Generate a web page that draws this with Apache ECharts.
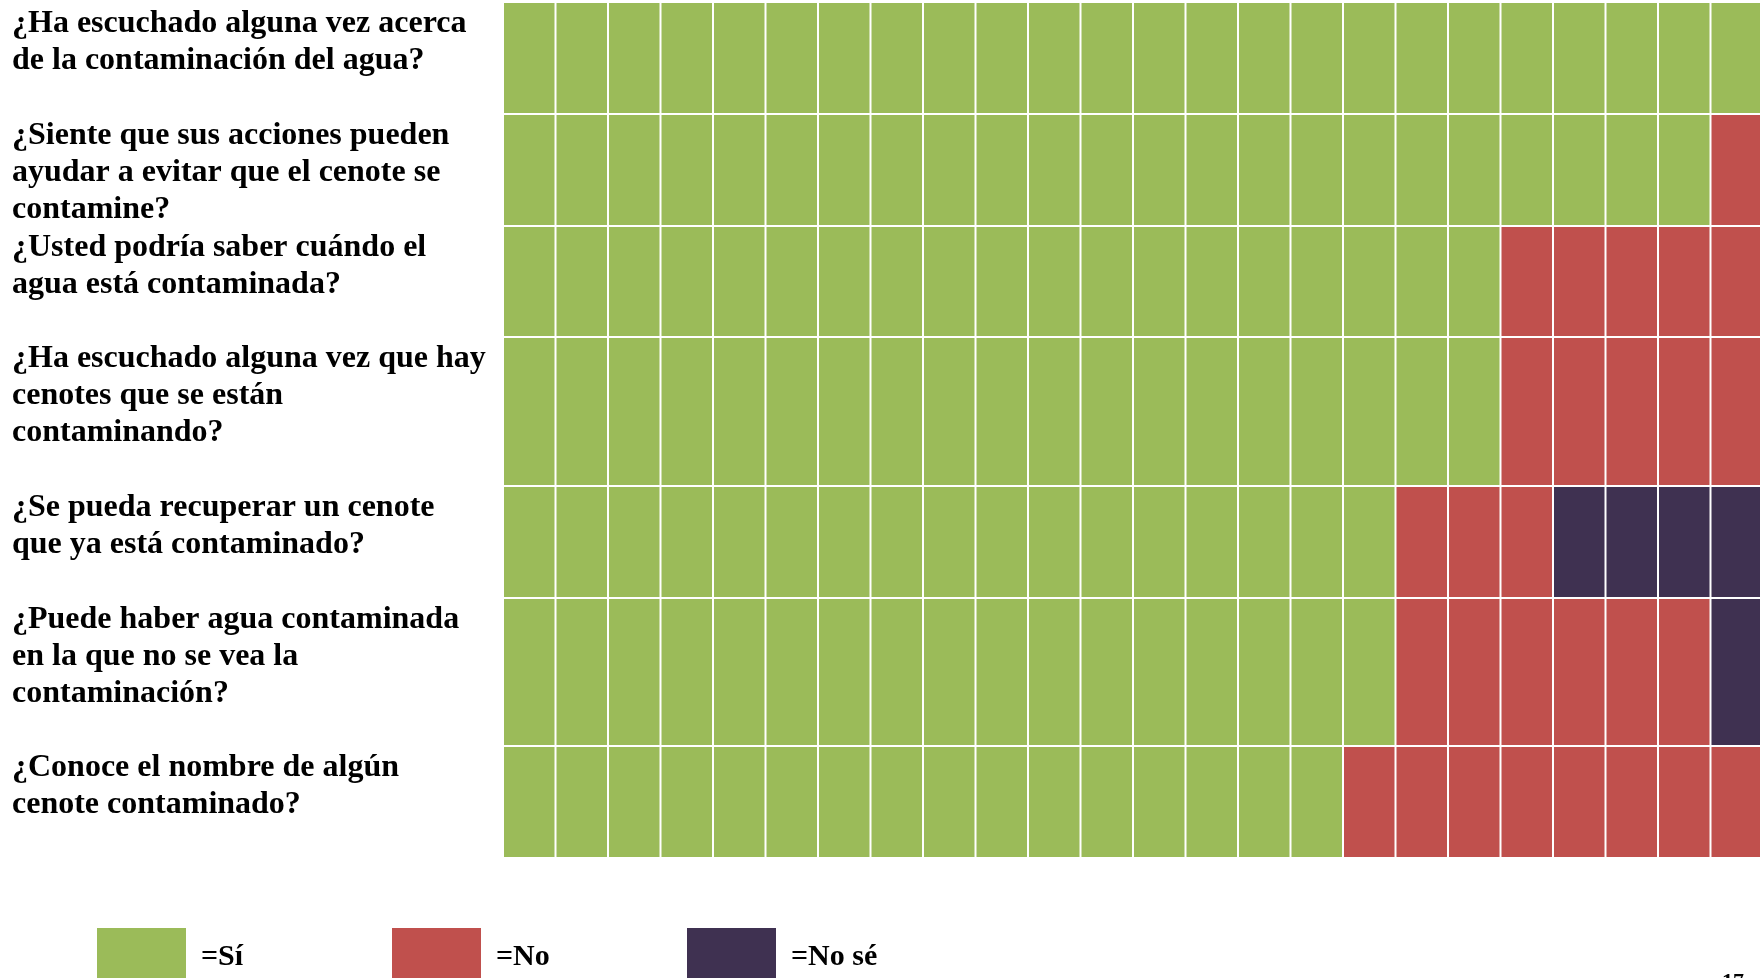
<!DOCTYPE html>
<html>
<head>
<meta charset="utf-8">
<script src="https://cdn.jsdelivr.net/npm/echarts@6/dist/echarts.min.js"></script>
<style>
  html, body { margin: 0; padding: 0; background: #ffffff; }
  #chart { width: 1760px; height: 978px; }
</style>
</head>
<body>
<div id="chart"></div>
<script>
// ---- data ----
const questions = [
  "¿Ha escuchado alguna vez acerca\nde la contaminación del agua?",
  "¿Siente que sus acciones pueden\nayudar a evitar que el cenote se\ncontamine?",
  "¿Usted podría saber cuándo el\nagua está contaminada?",
  "¿Ha escuchado alguna vez que hay\ncenotes que se están\ncontaminando?",
  "¿Se pueda recuperar un cenote\nque ya está contaminado?",
  "¿Puede haber agua contaminada\nen la que no se vea la\ncontaminación?",
  "¿Conoce el nombre de algún\ncenote contaminado?"
];
const answers = ["Sí", "No", "No sé"];
const countSi   = [24, 23, 19, 19, 17, 17, 16];
const countNo   = [0, 1, 5, 5, 3, 6, 8];
const countNoSe = [0, 0, 0, 0, 4, 1, 0];
const totalColumns = 24;
const pageNumber = "17";

// ---- layout (not data) ----
const rowSpans = [112, 112, 111, 149, 112, 148, 112];
const colors = ["#9BBB59", "#C0504D", "#3F3151"];
const FONT = '"Liberation Serif", "Times New Roman", serif';

const rowStart = [];
let acc = 0;
rowSpans.forEach(s => { rowStart.push(acc); acc += s; });
const totalSpan = acc;

const counts = [countSi, countNo, countNoSe];
function cellsFor(k) {
  const out = [];
  questions.forEach((q, r) => {
    let start = 0;
    for (let j = 0; j < k; j++) start += counts[j][r];
    for (let c = start; c < start + counts[k][r]; c++) out.push([c, r]);
  });
  return out;
}

function renderCell(params, api) {
  const c = api.value(0), r = api.value(1);
  const tl = api.coord([c, rowStart[r]]);
  const br = api.coord([c + 1, rowStart[r] + rowSpans[r]]);
  return {
    type: 'rect',
    shape: { x: tl[0], y: tl[1], width: br[0] - tl[0] - 2, height: br[1] - tl[1] - 2 },
    style: { fill: api.visual('color') }
  };
}

const cellSeries = answers.map((name, k) => ({
  name: name,
  type: 'custom',
  coordinateSystem: 'cartesian2d',
  renderItem: renderCell,
  itemStyle: { color: colors[k] },
  encode: { x: 0, y: 1 },
  data: cellsFor(k),
  silent: true,
  animation: false
}));

const labelSeries = {
  name: 'labels',
  type: 'custom',
  coordinateSystem: 'cartesian2d',
  silent: true,
  animation: false,
  data: questions.map((q, r) => [0, r]),
  encode: { x: 0, y: 1 },
  renderItem: function (params, api) {
    const r = api.value(1);
    const p = api.coord([0, rowStart[r]]);
    return {
      type: 'text',
      x: p[0] - 492,
      y: p[1] + 2,
      style: {
        text: questions[r],
        fill: '#000000',
        font: 'bold 32px ' + FONT,
        lineHeight: 37,
        align: 'left',
        verticalAlign: 'top'
      }
    };
  }
};

const legendLefts = [97, 392, 687];
const legends = answers.map((name, k) => ({
  data: [name],
  left: legendLefts[k],
  top: 928,
  padding: 0,
  icon: 'rect',
  itemWidth: 89,
  itemHeight: 58,
  selectedMode: false,
  formatter: '={name}',
  textStyle: {
    fontFamily: FONT,
    fontWeight: 'bold',
    fontSize: 30,
    color: '#000000',
    padding: [0, 0, 0, 10]
  }
}));

const chart = echarts.init(document.getElementById('chart'), null, { renderer: 'canvas' });
chart.setOption({
  backgroundColor: '#ffffff',
  animation: false,
  grid: { left: 504, top: 3, width: 1260, height: totalSpan, containLabel: false, outerBoundsMode: 'none' },
  xAxis: { type: 'value', min: 0, max: totalColumns, show: false },
  yAxis: { type: 'value', min: 0, max: totalSpan, inverse: true, show: false },
  legend: legends,
  tooltip: { show: false },
  graphic: [{
    type: 'text',
    left: 1722,
    top: 971,
    style: { text: pageNumber, fill: '#000000', font: 'bold 22px ' + FONT }
  }],
  series: cellSeries.concat([labelSeries])
});
</script>
</body>
</html>
